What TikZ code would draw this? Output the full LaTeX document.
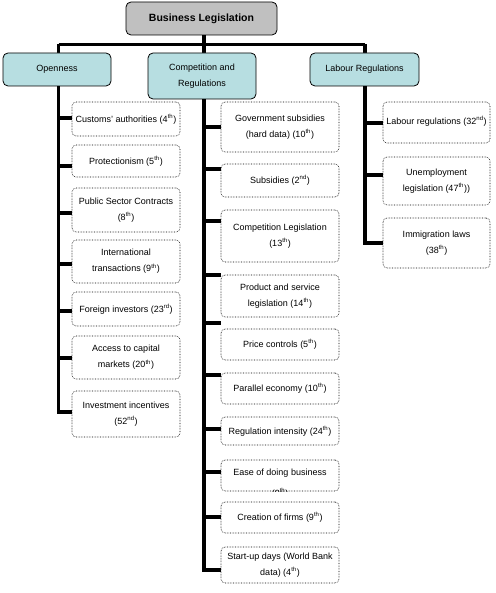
\documentclass[tikz,border=0pt]{standalone}
\usepackage{fontspec}
\setmainfont{Liberation Sans}
\definecolor{catblue}{RGB}{183,222,225}
\definecolor{topgray}{RGB}{192,192,192}
\newcommand\sth[1]{\textsuperscript{#1}}
\tikzset{
  leaf/.style={draw, densely dotted, line width=0.6pt, rounded corners=4pt, align=center,
    font=\fontsize{9}{16}\selectfont, inner sep=0pt},
  leaftext/.style={font=\fontsize{9}{16}\selectfont, inner sep=0pt, anchor=base},
  cat/.style={draw, fill=catblue, line width=0.8pt, rounded corners=5pt, align=center,
    font=\fontsize{9}{16}\selectfont, inner sep=0pt},
  topbox/.style={draw, fill=topgray, line width=0.8pt, rounded corners=5pt, align=center,
    font=\bfseries\fontsize{10.5}{12}\selectfont, inner sep=0pt},
  conn/.style={line width=3.5pt}
}
\begin{document}
\begin{tikzpicture}[x=1pt,y=-1pt]
\useasboundingbox (0,0) rectangle (495,593);
% trunk coordinates
\coordinate (tO) at (58.5,0);
\coordinate (tC) at (204,0);
\coordinate (tL) at (365,0);
\coordinate (bar) at (0,44.5);
% connectors behind
\draw[conn] (tO |- bar) -- (tL |- bar);
\draw[conn] (tO |- bar) -- (tO |- 0,414);
\draw[conn] (tC |- 0,30) -- (tC |- 0,572);
\draw[conn] (tL |- bar) -- (tL |- 0,245);
% top
\node[topbox, minimum width=151pt, minimum height=33pt] (top) at (201.5,18.5) {\raisebox{2pt}{Business Legislation}};
% categories
\node[cat, minimum width=108pt, minimum height=33pt] (open) at (57,69.5) {\raisebox{2.5pt}{Openness}};
\node[cat, minimum width=108pt, minimum height=46pt] (comp) at (202,76) {Competition and\\Regulations};
\node[cat, minimum width=109pt, minimum height=33pt] (lab) at (364.5,69.5) {\raisebox{1.5pt}{Labour Regulations}};
% Openness leaves
\node[leaf, minimum width=108pt, minimum height=34pt] (o1) at (126,119) {Customs' authorities (4\sth{th})};
\node[leaf, minimum width=108pt, minimum height=32pt] (o2) at (126,161) {Protectionism (5\sth{th})};
\node[leaf, minimum width=108pt, minimum height=44pt] (o3) at (126,210) {Public Sector Contracts\\(8\sth{th})};
\node[leaf, minimum width=108pt, minimum height=43pt] (o4) at (126,261.5) {International\\transactions (9\sth{th})};
\node[leaf, minimum width=108pt, minimum height=34pt] (o5) at (126,309) {Foreign investors (23\sth{rd})};
\node[leaf, minimum width=108pt, minimum height=43pt] (o6) at (126,357.5) {Access to capital\\markets (20\sth{th})};
\node[leaf, minimum width=108pt, minimum height=46pt] (o7) at (126,414) {Investment incentives\\(52\sth{nd})};
% Competition leaves
\node[leaf, minimum width=118pt, minimum height=50pt] (c1) at (280,127) {Government subsidies\\(hard data) (10\sth{th})};
\node[leaf, minimum width=118pt, minimum height=33pt] (c2) at (280,180.5) {Subsidies (2\sth{nd})};
\node[leaf, minimum width=118pt, minimum height=52pt] (c3) at (280,236) {Competition Legislation\\(13\sth{th})};
\node[leaf, minimum width=118pt, minimum height=42pt] (c4) at (280,296) {Product and service\\legislation (14\sth{th})};
\node[leaf, minimum width=118pt, minimum height=31pt] (c5) at (280,344.5) {Price controls (5\sth{th})};
\node[leaf, minimum width=118pt, minimum height=31pt] (c6) at (280,388.5) {Parallel economy (10\sth{th})};
\node[leaf, minimum width=118pt, minimum height=28pt] (c7) at (280,431) {Regulation intensity (24\sth{th})};
\node[leaf, minimum width=118pt, minimum height=31pt] (c8) at (280,475.5) {};
\begin{scope}
  \clip (c8.north west) rectangle (c8.south east);
  \node[leaftext] (c8a) at (280,475) {Ease of doing business};
  \node[leaftext] (c8b) at (280,496) {(9\sth{th})};
\end{scope}
\node[leaf, minimum width=118pt, minimum height=31pt] (c9) at (280,517.5) {Creation of firms (9\sth{th})};
\node[leaf, minimum width=118pt, minimum height=36pt] (c10) at (280,565) {Start-up days (World Bank\\data) (4\sth{th})};
% Labour leaves
\node[leaf, minimum width=107pt, minimum height=41pt] (l1) at (436.5,122.5) {\raisebox{4pt}{Labour regulations (32\sth{nd})}};
\node[leaf, minimum width=107pt, minimum height=48pt] (l2) at (436.5,181) {Unemployment\\legislation (47\sth{th}))};
\node[leaf, minimum width=107pt, minimum height=50pt] (l3) at (436.5,243) {Immigration laws\\(38\sth{th})};
% horizontal connectors
\foreach \n/\y in {o1/118,o2/166,o3/213,o4/264,o5/311,o6/358,o7/412}
  \draw[conn] (tO |- 0,\y) -- (\n.west |- 0,\y);
\foreach \n/\y in {c1/127,c2/169,c3/221,c4/275,c5/323,c6/375,c7/429,c8/472,c9/517,c10/570}
  \draw[conn] (tC |- 0,\y) -- (\n.west |- 0,\y);
\foreach \n/\y in {l1/123,l2/175,l3/243}
  \draw[conn] (tL |- 0,\y) -- (\n.west |- 0,\y);
\end{tikzpicture}
\end{document}
